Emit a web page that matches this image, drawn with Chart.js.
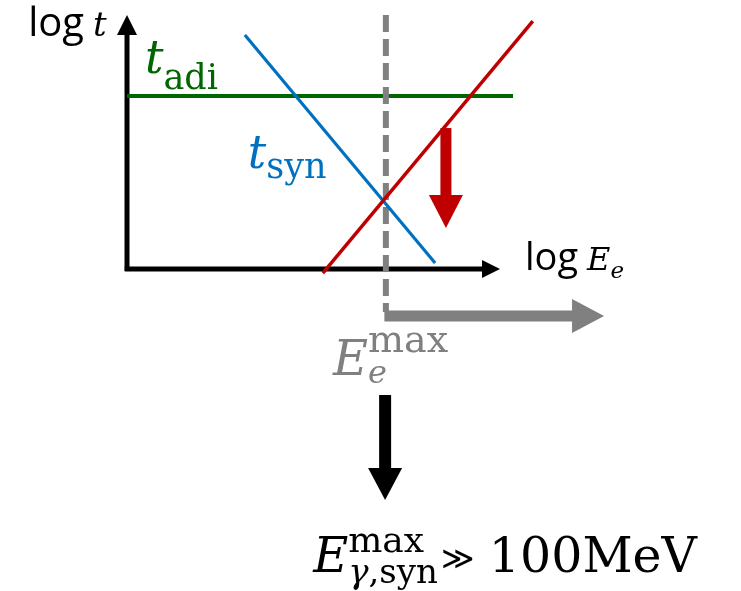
<!DOCTYPE html>
<html lang="en">
<head>
<meta charset="UTF-8">
<title>Cooling time vs electron energy</title>
<script src="https://cdn.jsdelivr.net/npm/chart.js@4.4.1/dist/chart.umd.min.js"></script>
<style>
    html, body { margin: 0; padding: 0; background: #fff; }
    #wrap { width: 741px; height: 591px; position: relative; }
</style>
</head>
<body>
<div id="wrap"><canvas id="sketch"></canvas></div>
<script>
// frame in (log E, log t) units, origin at the axes corner
const eRange = [-3.405, 16.461];
const tRange = [-12.677, 10.591];

// the three time scales and the E_max marker
const tAdiE = [0, 10.35];
const tAdiT = [6.81, 6.81];
const tSynE = [3.16, 8.26];
const tSynT = [9.21, 0.24];
const tAccE = [5.25, 10.88];
const tAccT = [-0.16, 9.76];
const eMaxE = [6.94, 6.94];
const eMaxT = [10.0, -1.69];

// arrows: axes, E_max shift, t_acc drop, result
const arrowTailE = [0, -0.06, 6.9, 8.55, 6.92];
const arrowTailT = [-0.08, 0, -1.85, 5.55, -4.96];
const arrowTipE = [0, 10, 12.79, 8.55, 6.92];
const arrowTipT = [10, 0, -1.85, 1.61, -9.09];
const arrowStyle = [
    { color: '#000000', shaft: 5, len: 20, half: 10, top: false },
    { color: '#000000', shaft: 5, len: 18, half: 9, top: false },
    { color: '#808080', shaft: 11, len: 32, half: 17, top: false },
    { color: '#c00000', shaft: 11, len: 33, half: 17, top: true },
    { color: '#000000', shaft: 12, len: 32, half: 17, top: true }
];

const GREEN = '#006600';
const BLUE = '#0070c0';
const RED = '#c00000';
const GRAY = '#808080';
const SANS = '"Open Sans"';
const SERIF = '"DejaVu Serif"';

// text anchors (baseline start) in the same frame
const labels = [
    { e: -2.65, t: 9.17, parts: [
        { text: 'log', font: '40px ' + SANS, color: '#000', post: 9 },
        { text: 't', font: 'italic 34px ' + SERIF, color: '#000' }
    ]},
    { e: 0.48, t: 7.72, parts: [
        { text: 't', font: 'italic 46px ' + SERIF, color: GREEN },
        { text: 'adi', font: '35px ' + SERIF, color: GREEN, dy: 16 }
    ]},
    { e: 3.24, t: 3.98, parts: [
        { text: 't', font: 'italic 46px ' + SERIF, color: BLUE },
        { text: 'syn', font: '35px ' + SERIF, color: BLUE, dy: 10 }
    ]},
    { e: 10.67, t: -0.04, parts: [
        { text: 'log', font: '38px ' + SANS, color: '#000', post: 9 },
        { text: 'E', font: 'italic 32px ' + SERIF, color: '#000' },
        { text: 'e', font: 'italic 23px ' + SERIF, color: '#000', dy: 8 }
    ]},
    { e: 5.52, t: -4.17, parts: [
        { text: 'E', font: 'italic 48px ' + SERIF, color: GRAY },
        { sub: [{ text: 'e', font: 'italic 32px ' + SERIF, color: GRAY }], subDy: 8,
          sup: [{ text: 'max', font: '38px ' + SERIF, color: GRAY }], supDy: -23 }
    ]},
    { e: 4.99, t: -11.93, parts: [
        { text: 'E', font: 'italic 48px ' + SERIF, color: '#000' },
        { sub: [{ text: 'γ', font: 'italic 34px ' + SERIF, color: '#000' },
                { text: ',syn', font: '34px ' + SERIF, color: '#000' }], subDy: 11,
          sup: [{ text: 'max', font: '36px ' + SERIF, color: '#000' }], supDy: -20 },
        { text: '≫', font: '32px ' + SERIF, color: '#000', pre: 3, post: 14, dy: -3 },
        { text: '100MeV', font: '49px ' + SERIF, color: '#000' }
    ]}
];

function pts(es, ts) {
    return es.map((e, i) => ({ x: e, y: ts[i] }));
}

function runWidth(ctx, runs) {
    let w = 0;
    runs.forEach(r => { ctx.font = r.font; w += ctx.measureText(r.text).width; });
    return w;
}

function drawRuns(ctx, x, y, runs, dy) {
    runs.forEach(r => {
        x += r.pre || 0;
        ctx.font = r.font;
        ctx.fillStyle = r.color;
        ctx.fillText(r.text, x, y + (dy || 0) + (r.dy || 0));
        x += ctx.measureText(r.text).width + (r.post || 0);
    });
    return x;
}

function drawArrow(ctx, chart, i) {
    const xs = chart.scales.x, ys = chart.scales.y, st = arrowStyle[i];
    const x0 = xs.getPixelForValue(arrowTailE[i]), y0 = ys.getPixelForValue(arrowTailT[i]);
    const x1 = xs.getPixelForValue(arrowTipE[i]), y1 = ys.getPixelForValue(arrowTipT[i]);
    const ang = Math.atan2(y1 - y0, x1 - x0);
    const bx = x1 - st.len * Math.cos(ang), by = y1 - st.len * Math.sin(ang);
    ctx.save();
    ctx.strokeStyle = st.color;
    ctx.fillStyle = st.color;
    ctx.lineWidth = st.shaft;
    ctx.lineCap = 'butt';
    ctx.beginPath();
    ctx.moveTo(x0, y0);
    ctx.lineTo(bx + Math.cos(ang), by + Math.sin(ang));
    ctx.stroke();
    ctx.beginPath();
    ctx.moveTo(x1, y1);
    ctx.lineTo(bx - st.half * Math.sin(ang), by + st.half * Math.cos(ang));
    ctx.lineTo(bx + st.half * Math.sin(ang), by - st.half * Math.cos(ang));
    ctx.closePath();
    ctx.fill();
    ctx.restore();
}

const sketchPlugin = {
    id: 'sketch',
    beforeDatasetsDraw(chart) {
        arrowStyle.forEach((st, i) => { if (!st.top) drawArrow(chart.ctx, chart, i); });
    },
    afterDatasetsDraw(chart) {
        const ctx = chart.ctx;
        arrowStyle.forEach((st, i) => { if (st.top) drawArrow(ctx, chart, i); });
        ctx.save();
        ctx.textBaseline = 'alphabetic';
        ctx.textAlign = 'left';
        labels.forEach(lb => {
            let x = chart.scales.x.getPixelForValue(lb.e);
            const y = chart.scales.y.getPixelForValue(lb.t);
            lb.parts.forEach(p => {
                if (p.sub) {
                    const w = Math.max(runWidth(ctx, p.sub), runWidth(ctx, p.sup));
                    drawRuns(ctx, x, y, p.sub, p.subDy);
                    drawRuns(ctx, x, y, p.sup, p.supDy);
                    x += w;
                } else {
                    x = drawRuns(ctx, x, y, [p]);
                }
            });
        });
        ctx.restore();
    }
};

function lineSet(es, ts, color, width, order, dash) {
    return {
        data: pts(es, ts),
        showLine: true,
        borderColor: color,
        borderWidth: width,
        borderDash: dash || [],
        borderCapStyle: 'butt',
        pointRadius: 0,
        fill: false,
        order: order
    };
}

new Chart(document.getElementById('sketch'), {
    type: 'scatter',
    data: {
        datasets: [
            lineSet(tAccE, tAccT, RED, 3.5, 0),
            lineSet(tSynE, tSynT, BLUE, 3.2, 1),
            lineSet(eMaxE, eMaxT, GRAY, 6, 2, [17, 7]),
            lineSet(tAdiE, tAdiT, GREEN, 4, 3)
        ]
    },
    options: {
        responsive: true,
        maintainAspectRatio: false,
        animation: false,
        layout: { padding: 0 },
        plugins: { legend: { display: false }, tooltip: { enabled: false } },
        scales: {
            x: { type: 'linear', min: eRange[0], max: eRange[1], display: false },
            y: { type: 'linear', min: tRange[0], max: tRange[1], display: false }
        }
    },
    plugins: [sketchPlugin]
});
</script>
</body>
</html>
